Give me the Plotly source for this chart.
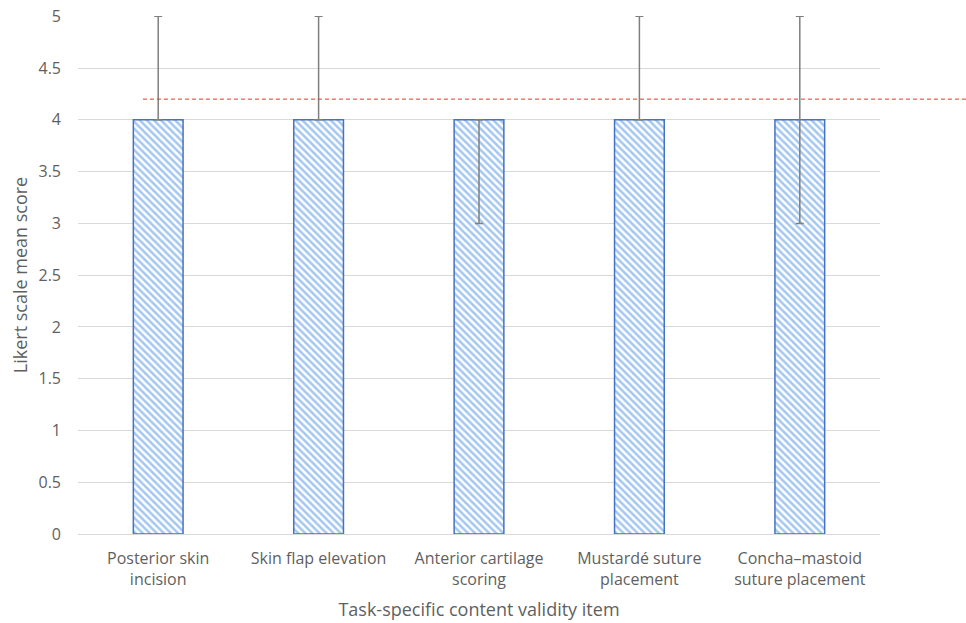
import plotly.graph_objects as go

categories = ["Posterior skin<br>incision", "Skin flap elevation", "Anterior cartilage<br>scoring",
              "Mustardé suture<br>placement", "Concha–mastoid<br>suture placement"]
means = [4, 4, 4, 4, 4]
err_plus = [1, 1, 0, 1, 1]
err_minus = [0, 0, 1, 0, 1]
threshold = 4.2
y_ticks = [0, 0.5, 1, 1.5, 2, 2.5, 3, 3.5, 4, 4.5, 5]

text_color = "#5f5f5f"
font_family = "Open Sans, Noto Sans, sans-serif"

fig = go.Figure()
fig.add_trace(go.Bar(
    x=categories, y=means,
    marker=dict(color="white",
                line=dict(color="#4472C4", width=1.5),
                pattern=dict(shape="\\", fgcolor="#4A8FE0", bgcolor="white", size=5, solidity=0.5, fillmode="overlay")),
    width=0.31,
    error_y=dict(type="data", symmetric=False, array=err_plus, arrayminus=err_minus,
                 color="#7f7f7f", thickness=1.5, width=4),
    showlegend=False,
))

fig.add_shape(type="line", xref="paper", yref="y", x0=0.081, x1=1.11, y0=threshold, y1=threshold,
              line=dict(color="#FF2A2A", width=1, dash="4px,3px"))

fig.update_layout(
    width=966, height=623,
    margin=dict(l=78, r=86, t=16, b=89),
    plot_bgcolor="white", paper_bgcolor="white",
    font=dict(family=font_family, color=text_color, size=16),
    xaxis=dict(title=dict(text="Task-specific content validity item", font=dict(size=18, color=text_color), standoff=14),
               showgrid=False, showline=True, linecolor="#d9d9d9", linewidth=1, ticks="",
               ticklabelstandoff=10, automargin=False,
               tickfont=dict(size=16, color=text_color)),
    yaxis=dict(title=dict(text="Likert scale mean score", font=dict(size=18, color=text_color), standoff=6),
               range=[0, 5.003], tickvals=y_ticks, ticktext=[f"{v:g}" for v in y_ticks],
               showgrid=True, gridcolor="#d9d9d9", gridwidth=1, zeroline=False, automargin=False,
               ticklabeloverflow="allow",
               ticks="", ticklabelstandoff=16, tickfont=dict(size=16, color=text_color)),
)

fig.write_html("out.html", config={"displayModeBar": False},
               post_script="document.body.style.margin='0';document.body.style.overflow='hidden';")
